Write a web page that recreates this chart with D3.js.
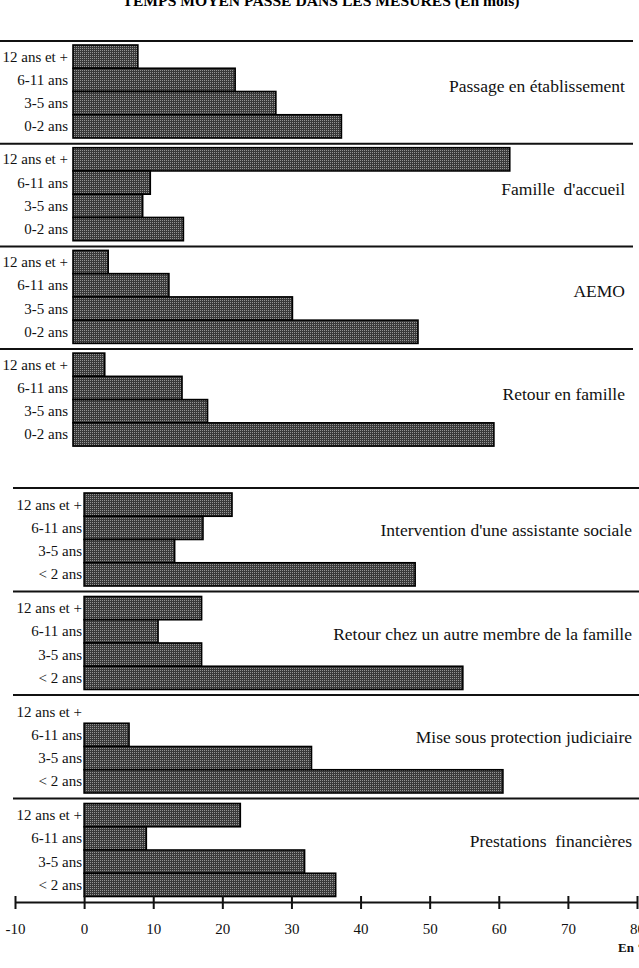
<!DOCTYPE html>
<html>
<head>
<meta charset="utf-8">
<script src="https://cdn.jsdelivr.net/npm/d3@7"></script>
<style>
  body { margin: 0; background: #fff; }
  svg { display: block; }
  .serif { font-family: "Liberation Serif", "Times New Roman", serif; }
</style>
</head>
<body>
<div id="chart"></div>
<script>
// Data
var topCategories = ["12 ans et +", "6-11 ans", "3-5 ans", "0-2 ans"];
var bottomCategories = ["12 ans et +", "6-11 ans", "3-5 ans", "< 2 ans"];

var topPanels = ["Passage en établissement", "Famille  d'accueil", "AEMO", "Retour en famille"];
var passageValues = [9.4, 23.5, 29.4, 38.9];
var familleValues = [63.3, 11.2, 10.1, 16.0];
var aemoValues = [5.1, 13.9, 31.8, 50.0];
var retourValues = [4.6, 15.8, 19.5, 61.0];

var bottomPanels = ["Intervention d'une assistante sociale", "Retour chez un autre membre de la famille",
    "Mise sous protection judiciaire", "Prestations  financières"];
var interventionValues = [21.4, 17.2, 13.1, 47.9];
var autreMembreValues = [17.0, 10.7, 17.0, 54.8];
var protectionValues = [0, 6.5, 32.9, 60.6];
var prestationsValues = [22.6, 9.0, 31.9, 36.4];

var axisTicks = [-10, 0, 10, 20, 30, 40, 50, 60, 70, 80];

var w = 639;
var h = 968;
var panelFont = "'Palatino Linotype', 'Book Antiqua', 'URW Palladio L', 'Liberation Serif', serif";

var svg = d3.select("#chart")
    .append("svg")
    .attr("width", w)
    .attr("height", h);

// dotted grey fill like the original print
var pat = svg.append("defs").append("pattern")
    .attr("id", "dots")
    .attr("width", 2)
    .attr("height", 2)
    .attr("patternUnits", "userSpaceOnUse");
pat.append("rect").attr("width", 2).attr("height", 2).attr("fill", "#3a3a3a");
pat.append("rect").attr("width", 1).attr("height", 1).attr("fill", "#959595");

// title, top half cut off as in the scan
svg.append("text")
    .attr("class", "serif")
    .attr("x", 321)
    .attr("y", 5.5)
    .attr("text-anchor", "middle")
    .attr("font-weight", "bold")
    .attr("font-size", 15)
    .attr("textLength", 397)
    .attr("lengthAdjust", "spacingAndGlyphs")
    .text("TEMPS MOYEN PASSÉ DANS LES MESURES (En mois)");

var xTop = d3.scaleLinear().domain([0, 80]).range([73, 625]);
var xBottom = d3.scaleLinear().domain([-10, 80]).range([15, 637]);

function drawPanel(top, cats, values, title, x, opts) {
    var g = svg.append("g");

    // separator line above the panel
    g.append("line")
        .attr("x1", opts.lineX1)
        .attr("x2", opts.lineX2)
        .attr("y1", top)
        .attr("y2", top)
        .attr("stroke", "#111")
        .attr("stroke-width", 2);

    var y = d3.scaleBand()
        .domain(cats)
        .range([top + opts.barTop, top + opts.barTop + 93])
        .paddingInner(0);

    var rows = cats.map(function (c, i) { return { cat: c, value: values[i] }; });

    g.selectAll("rect.bar")
        .data(rows.filter(function (d) { return d.value > 0; }))
        .enter()
        .append("rect")
        .attr("class", "bar")
        .attr("x", x(0))
        .attr("y", function (d) { return y(d.cat); })
        .attr("width", function (d) { return x(d.value) - x(0); })
        .attr("height", y.bandwidth())
        .attr("fill", "url(#dots)")
        .attr("stroke", "#000")
        .attr("stroke-width", 1.6);

    // category labels
    g.selectAll("text.cat")
        .data(cats)
        .enter()
        .append("text")
        .attr("class", "serif cat")
        .attr("x", opts.labelX)
        .attr("y", function (d) { return y(d) + y.bandwidth() / 2 + 5; })
        .attr("text-anchor", "end")
        .attr("font-size", 15)
        .attr("fill", "#111")
        .text(function (d) { return d; });

    // panel name on the right
    g.append("text")
        .attr("x", opts.titleX)
        .attr("y", top + opts.titleDy)
        .attr("text-anchor", "end")
        .attr("font-family", panelFont)
        .attr("font-size", 17.5)
        .attr("fill", "#111")
        .style("white-space", "pre")
        .text(title);
}

var topValues = [passageValues, familleValues, aemoValues, retourValues];
topValues.forEach(function (vals, i) {
    drawPanel(41 + i * 102.7, topCategories, vals, topPanels[i], xTop,
        { lineX1: 0, lineX2: 633, barTop: 4, labelX: 68, titleX: 625, titleDy: 51 });
});

var bottomValues = [interventionValues, autreMembreValues, protectionValues, prestationsValues];
bottomValues.forEach(function (vals, i) {
    drawPanel(488 + i * 103.5, bottomCategories, vals, bottomPanels[i], xBottom,
        { lineX1: 13, lineX2: 639, barTop: 5, labelX: 82, titleX: 632, titleDy: 48 });
});

// bottom axis in %
var xAxis = d3.axisBottom(xBottom)
    .tickValues(axisTicks)
    .tickFormat(function (d) { return String(d); })
    .tickSize(7)
    .tickSizeOuter(0)
    .tickPadding(14);

var axisG = svg.append("g")
    .attr("transform", "translate(0,902)")
    .call(xAxis);

axisG.select(".domain")
    .attr("stroke", "#111")
    .attr("stroke-width", 2);
axisG.selectAll(".tick line")
    .attr("y1", -6)
    .attr("stroke", "#111")
    .attr("stroke-width", 2);
axisG.selectAll(".tick text")
    .attr("font-family", panelFont)
    .attr("font-size", 15)
    .attr("fill", "#111");

svg.append("text")
    .attr("class", "serif")
    .attr("x", 618)
    .attr("y", 952)
    .attr("font-size", 13)
    .attr("font-weight", "bold")
    .attr("fill", "#111")
    .text("En %");
</script>
</body>
</html>
